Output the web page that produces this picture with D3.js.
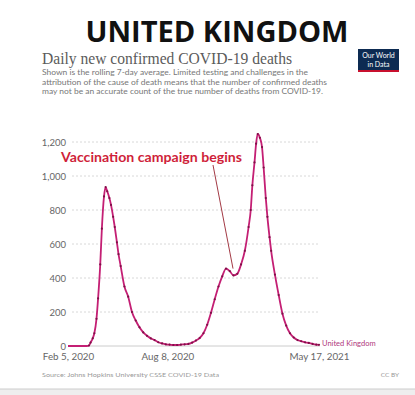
<!DOCTYPE html>
<html><head><meta charset="utf-8">
<script src="https://cdn.jsdelivr.net/npm/d3@7/dist/d3.min.js"></script>
<style>
html,body{margin:0;padding:0;background:#fff;}
svg{display:block;}
</style></head>
<body><svg id="c" width="415" height="395"></svg>
<script>
// ---- data ----
const dates = ["2020-02-05","2020-02-12","2020-02-19","2020-02-26","2020-03-04","2020-03-11","2020-03-15","2020-03-18","2020-03-22","2020-03-25","2020-03-29","2020-04-01","2020-04-05","2020-04-08","2020-04-12","2020-04-15","2020-04-18","2020-04-22","2020-04-25","2020-04-29","2020-05-02","2020-05-06","2020-05-09","2020-05-13","2020-05-20","2020-05-27","2020-06-03","2020-06-10","2020-06-17","2020-06-24","2020-07-01","2020-07-08","2020-07-15","2020-07-22","2020-07-29","2020-08-05","2020-08-12","2020-08-19","2020-08-26","2020-09-02","2020-09-09","2020-09-16","2020-09-23","2020-09-30","2020-10-07","2020-10-14","2020-10-21","2020-10-28","2020-11-04","2020-11-11","2020-11-18","2020-11-25","2020-12-02","2020-12-09","2020-12-16","2020-12-23","2020-12-30","2021-01-06","2021-01-10","2021-01-13","2021-01-17","2021-01-20","2021-01-23","2021-01-27","2021-01-31","2021-02-03","2021-02-07","2021-02-10","2021-02-14","2021-02-17","2021-02-24","2021-03-03","2021-03-10","2021-03-17","2021-03-24","2021-03-31","2021-04-07","2021-04-14","2021-04-21","2021-04-28","2021-05-05","2021-05-12","2021-05-17"];
const deaths = [0,0,0,0,0,0,3,20,45,75,160,280,480,690,880,935,910,870,830,760,700,610,540,470,350,290,200,150,110,80,60,45,35,22,15,10,8,6,6,8,10,12,20,32,47,75,125,195,275,350,410,455,440,415,425,480,560,700,800,945,1080,1190,1247,1225,1170,1050,870,760,640,560,420,300,190,120,75,50,35,28,22,18,12,8,7];
const yTicks = [0,200,400,600,800,1000,1200];
const xTickDates = ["2020-02-05","2020-08-08","2021-05-17"];
const xTickLabels = ["Feb 5, 2020","Aug 8, 2020","May 17, 2021"];
const seriesName = "United Kingdom";
const annotation = {date:"2020-12-08", value:420, text:"Vaccination campaign begins"};

// ---- chart ----
const parse = d3.utcParse("%Y-%m-%d");
const data = dates.map((d,i)=>({date:parse(d), v:deaths[i]}));
const svg = d3.select("#c");
const font = "Lato, 'Open Sans', sans-serif";

const x = d3.scaleUtc().domain([parse("2020-02-05"), parse("2021-05-17")]).range([68,319]);
const y = d3.scaleLinear().domain([0,1200]).range([346,142]);

// title
svg.append("text").attr("x",217).attr("y",42).attr("text-anchor","middle")
  .attr("font-family","'Open Sans', sans-serif").attr("font-weight",700).attr("font-size",29)
  .attr("fill","#111").attr("textLength",263).attr("lengthAdjust","spacingAndGlyphs").text("UNITED KINGDOM");

svg.append("text").attr("x",42).attr("y",64)
  .attr("font-family","'Liberation Serif', 'DejaVu Serif', serif").attr("font-size",16.5)
  .attr("fill","#5b5b5b").attr("textLength",250).attr("lengthAdjust","spacingAndGlyphs")
  .text("Daily new confirmed COVID-19 deaths");

const desc = [
 ["Shown is the rolling 7-day average. Limited testing and challenges in the",266],
 ["attribution of the cause of death means that the number of confirmed deaths",285],
 ["may not be an accurate count of the true number of deaths from COVID-19.",281]];
desc.forEach((d,i)=>{
  svg.append("text").attr("x",42).attr("y",75+i*9.6).attr("font-family",font).attr("font-size",8.3)
   .attr("fill","#777").attr("textLength",d[1]).attr("lengthAdjust","spacingAndGlyphs").text(d[0]);
});

// logo
const logo = svg.append("g");
logo.append("rect").attr("x",358).attr("y",49).attr("width",41).attr("height",22).attr("fill","#0d2b52");
logo.append("rect").attr("x",358).attr("y",70).attr("width",41).attr("height",2).attr("fill","#c8102e");
logo.append("text").attr("x",378.5).attr("y",58).attr("text-anchor","middle").attr("font-family",font)
  .attr("font-size",7).attr("fill","#fff").text("Our World");
logo.append("text").attr("x",378.5).attr("y",66.5).attr("text-anchor","middle").attr("font-family",font)
  .attr("font-size",7).attr("fill","#fff").text("in Data");

// grid + y axis
const yAxis = d3.axisLeft(y).tickValues(yTicks).tickSize(0).tickPadding(0).tickFormat(d3.format(","));
const gy = svg.append("g").attr("transform","translate(66,0)").call(yAxis);
gy.select(".domain").remove();
gy.selectAll("text").attr("font-family",font).attr("font-size",9.5).attr("fill","#666");
svg.append("g").selectAll("line").data(yTicks.filter(d=>d>0)).join("line")
  .attr("x1",72).attr("x2",320).attr("y1",d=>y(d)).attr("y2",d=>y(d))
  .attr("stroke","#d8d8d8").attr("stroke-width",1).attr("stroke-dasharray","2,2");
svg.append("line").attr("x1",68).attr("x2",320).attr("y1",y(0)).attr("y2",y(0))
  .attr("stroke","#ccc").attr("stroke-width",1);

// x axis
const xAxis = d3.axisBottom(x).tickValues(xTickDates.map(parse)).tickSize(0).tickPadding(7)
  .tickFormat((d,i)=>xTickLabels[i]);
const gx = svg.append("g").attr("transform","translate(0,346)").call(xAxis);
gx.select(".domain").remove();
gx.selectAll("text").attr("font-family",font).attr("font-size",9.8).attr("fill","#666");

// line
const line = d3.line().x(d=>x(d.date)).y(d=>y(d.v)).curve(d3.curveMonotoneX);
svg.append("path").datum(data).attr("d",line).attr("fill","none")
  .attr("stroke","#c41f74").attr("stroke-width",1.8);
svg.append("g").selectAll("circle").data(data.filter(d=>d.v>0)).join("circle")
  .attr("cx",d=>x(d.date)).attr("cy",d=>y(d.v)).attr("r",1.1).attr("fill","#7e1147");

svg.append("text").attr("x",322).attr("y",346).attr("font-family",font).attr("font-size",7.5)
  .attr("fill","#b0387c").text(seriesName);

// annotation
svg.append("line").attr("x1",213).attr("y1",165)
  .attr("x2",x(parse(annotation.date))).attr("y2",y(annotation.value)-6)
  .attr("stroke","#a33a45").attr("stroke-width",1);
svg.append("text").attr("x",61).attr("y",162).attr("font-family",font).attr("font-weight",700)
  .attr("font-size",13).attr("fill","#cf1f3a").attr("textLength",181).attr("lengthAdjust","spacingAndGlyphs")
  .text(annotation.text);

// footer
svg.append("text").attr("x",42).attr("y",377).attr("font-family",font).attr("font-size",6.5)
  .attr("fill","#999").attr("textLength",177).attr("lengthAdjust","spacingAndGlyphs")
  .text("Source: Johns Hopkins University CSSE COVID-19 Data");
svg.append("text").attr("x",399).attr("y",377).attr("text-anchor","end").attr("font-family",font)
  .attr("font-size",6.5).attr("fill","#999").text("CC BY");
svg.append("rect").attr("x",0).attr("y",389).attr("width",415).attr("height",6).attr("fill","#eee");
svg.append("line").attr("x1",0).attr("x2",415).attr("y1",389).attr("y2",389).attr("stroke","#ccc");
</script></body></html>
